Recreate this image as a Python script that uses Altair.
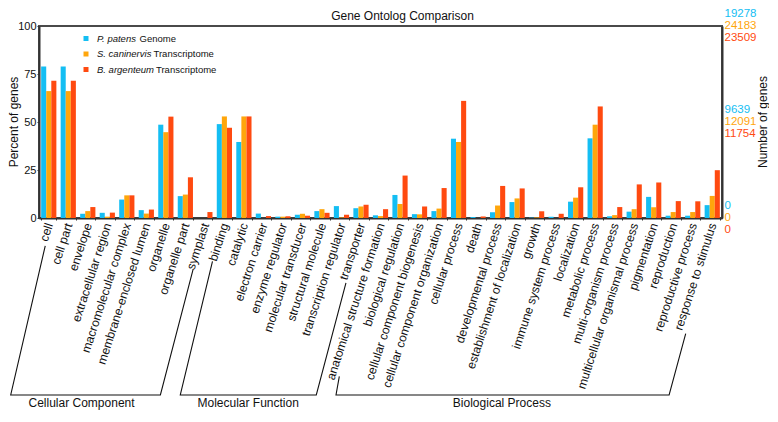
import altair as alt
import pandas as pd

# ---------------- data ----------------
categories = [
    "cell", "cell part", "envelope", "extracellular region", "macromolecular complex",
    "membrane-enclosed lumen", "organelle", "organelle part", "symplast",
    "binding", "catalytic", "electron carrier", "enzyme regulator", "molecular transducer",
    "structural molecule", "transcription regulator", "transporter",
    "anatomical structure formation", "biological regulation", "cellular component biogenesis",
    "cellular component organization", "cellular process", "death", "developmental process",
    "establishment of localization", "growth", "immune system process", "localization",
    "metabolic process", "multi-organism process", "multicellular organismal process",
    "pigmentation", "reproduction", "reproductive process", "response to stimulus",
]
series = ["P. patens Genome", "S. caninervis Transcriptome", "B. argenteum Transcriptome"]
series_italic = ["P. patens", "S. caninervis", "B. argenteum"]
series_suffix = ["Genome", "Transcriptome", "Transcriptome"]
colors = ["#14BEF3", "#FFA60C", "#FF4A10"]

p_patens = [78.9, 78.9, 2.2, 2.7, 9.6, 4.1, 48.6, 11.4, 0.0,
            48.9, 39.6, 2.3, 0.7, 1.7, 3.6, 6.2, 5.1,
            1.4, 12.0, 2.0, 3.6, 41.3, 0.5, 3.0, 8.3, 0.2, 0.6, 8.5,
            41.5, 0.9, 3.3, 11.0, 1.2, 1.2, 6.7]
s_caninervis = [66.1, 66.1, 3.6, 0.7, 11.8, 2.3, 44.7, 12.2, 0.0,
                52.9, 52.9, 0.0, 0.7, 2.2, 4.6, 0.3, 6.0,
                1.0, 7.3, 1.9, 4.9, 39.6, 0.0, 6.5, 10.2, 0.3, 0.0, 10.6,
                48.6, 1.5, 4.6, 5.6, 3.1, 3.1, 11.5]
b_argenteum = [71.5, 71.5, 5.7, 2.8, 11.8, 4.4, 52.8, 21.2, 3.1,
               47.0, 52.9, 1.0, 0.9, 1.2, 2.7, 1.7, 6.9,
               4.6, 22.1, 6.0, 15.6, 61.0, 0.8, 16.7, 15.4, 3.5, 2.2, 16.0,
               58.1, 5.7, 17.5, 18.5, 8.8, 8.7, 24.9]

percent_ticks = [0, 25, 50, 75, 100]
count_levels = [100, 50, 0]
count_labels = [["19278", "9639", "0"], ["24183", "12091", "0"], ["23509", "11754", "0"]]

chart_title = "Gene Ontolog Comparison"
left_title = "Percent of genes"
right_title = "Number of genes"

groups = ["Cellular Component", "Molecular Function", "Biological Process"]
group_label_pos = [2.18, 10.72, 23.72]          # in category units
group_label_depth = 193.5                        # px below axis (reference)
bracket_pos = [[0.32, -1.45, 6.22, 7.90],
               [8.89, 7.24, 14.21, 15.73],
               [15.39, 15.22, 32.29, 33.14]]
bracket_depth = [[28.5, 181.5, 181.5, 52.5],
                 [44.5, 181.5, 181.5, 66.5],
                 [162.5, 181.5, 181.5, 118.5]]

# ---------------- layout ----------------
W, H = 683, 192
FONT = "Liberation Sans"
N = len(categories)
depth_scale = 0.975 / (H / 100.0)   # px below axis -> percent units

rows = []
for i, c in enumerate(categories):
    for s, vals in zip(series, [p_patens, s_caninervis, b_argenteum]):
        rows.append({"category": c, "series": s, "value": vals[i]})
df = pd.DataFrame(rows)

yscale = alt.Scale(domain=[0, 100], nice=False, zero=True)

bars = alt.Chart(df).mark_bar().encode(
    x=alt.X("category:N", sort=categories,
            scale=alt.Scale(paddingInner=0.22, paddingOuter=0.11),
            axis=alt.Axis(title=None, labelAngle=288, labelFontSize=12.2, labelColor="#111",
                          labelPadding=3, tickBand="extent", tickSize=2, labelFont=FONT)),
    xOffset=alt.XOffset("series:N", sort=series,
                        scale=alt.Scale(paddingInner=0, paddingOuter=0)),
    y=alt.Y("value:Q", scale=yscale,
            axis=alt.Axis(values=percent_ticks, title=None,
                          labelFontSize=11, tickSize=2, labelPadding=1, labelColor="#111")),
    color=alt.Color("series:N", sort=series, scale=alt.Scale(domain=series, range=colors),
                    legend=None),
)

# titles as text marks
t_df = pd.DataFrame({"t": [chart_title]})
title_mark = alt.Chart(t_df).mark_text(fontSize=12, align="center", baseline="alphabetic",
                                       color="#111", font=FONT).encode(
    x=alt.value(W / 2 + 22), y=alt.value(-6), text="t:N")
lt_df = pd.DataFrame({"t": [left_title]})
left_title_mark = alt.Chart(lt_df).mark_text(fontSize=12, align="center", baseline="alphabetic",
                                             angle=270, color="#111", font=FONT).encode(
    x=alt.value(-21), y=alt.value(H / 2), text="t:N")
rt_df = pd.DataFrame({"t": [right_title]})
right_title_mark = alt.Chart(rt_df).mark_text(fontSize=12, align="center", baseline="alphabetic",
                                              angle=270, color="#111", font=FONT).encode(
    x=alt.value(W + 45), y=alt.value(H / 2), text="t:N")

# right side count labels
count_layers = []
dys = [-11.7, 0, 11.7]
for k in range(3):
    cdf = pd.DataFrame({"level": count_levels, "label": count_labels[k]})
    if k == 0:
        ax = alt.Axis(orient="right", values=[0, 50, 100], labels=False, ticks=False,
                      title=None)
    else:
        ax = None
    count_layers.append(
        alt.Chart(cdf).mark_text(align="left", baseline="middle", dy=dys[k], fontSize=11.5,
                                 color=colors[k], font=FONT).encode(
            x=alt.value(W + 2.5),
            y=alt.Y("level:Q", scale=yscale, axis=ax),
            text=alt.Text("label:N"),
        )
    )

# brackets
br_rows = []
for g, (us, ds) in enumerate(zip(bracket_pos, bracket_depth)):
    for j, (u, d) in enumerate(zip(us, ds)):
        br_rows.append({"group": groups[g], "order": j, "u": u, "v": -d * depth_scale})
br_df = pd.DataFrame(br_rows)
xu = alt.Scale(domain=[0, N], nice=False, zero=False)
yu = alt.Scale(domain=[0, 100], nice=False, zero=False)
brackets = alt.Chart(br_df).mark_line(color="#111", strokeWidth=1.1).encode(
    x=alt.X("u:Q", scale=xu, axis=None),
    y=alt.Y("v:Q", scale=yu, axis=None),
    detail="group:N",
    order="order:Q",
)

g_df = pd.DataFrame({"group": groups, "u": group_label_pos,
                     "v": [-group_label_depth * depth_scale] * 3})
group_text = alt.Chart(g_df).mark_text(fontSize=12, align="center", baseline="alphabetic",
                                       color="#111", font=FONT).encode(
    x=alt.X("u:Q", scale=xu, axis=None),
    y=alt.Y("v:Q", scale=yu, axis=None),
    text="group:N",
)

# legend
leg_df = pd.DataFrame({"row": [0, 1, 2], "series": series, "ital": series_italic,
                       "suffix": series_suffix, "sx": [100.5, 114.5, 117.0]})
ly = alt.Scale(domain=[0, 2], range=[12.5, 43.5], nice=False, zero=False)
leg_sq = alt.Chart(leg_df).mark_square(size=25, opacity=1).encode(
    x=alt.value(47),
    y=alt.Y("row:Q", scale=ly, axis=None),
    color=alt.Color("series:N", sort=series, scale=alt.Scale(domain=series, range=colors),
                    legend=None),
)
leg_it = alt.Chart(leg_df).mark_text(align="left", baseline="middle", fontSize=9.5,
                                     fontStyle="italic", color="#111", font=FONT).encode(
    x=alt.value(58),
    y=alt.Y("row:Q", scale=ly, axis=None),
    text="ital:N",
)
leg_sf = alt.Chart(leg_df).mark_text(align="left", baseline="middle", fontSize=9.5,
                                     color="#111", font=FONT).encode(
    x=alt.X("sx:Q", scale=alt.Scale(domain=[0, W], range=[0, W], nice=False, zero=False),
            axis=None),
    y=alt.Y("row:Q", scale=ly, axis=None),
    text="suffix:N",
)

chart = alt.layer(
    bars, *count_layers, brackets, group_text, leg_sq, leg_it, leg_sf,
    title_mark, left_title_mark, right_title_mark
).resolve_scale(
    x="independent", y="independent"
).properties(
    width=W, height=H,
    autosize=alt.AutoSizeParams(type="none"),
    padding={"left": 31, "top": 18, "right": 47, "bottom": 192},
).configure_view(
    stroke="#4a4a4a", strokeWidth=2
).configure_axis(
    domainColor="#333", domainWidth=2, tickColor="#333", grid=False,
    labelFont=FONT, titleFont=FONT, titleColor="#111"
)

chart.save("out.html", embed_options={"renderer": "svg", "actions": False})
